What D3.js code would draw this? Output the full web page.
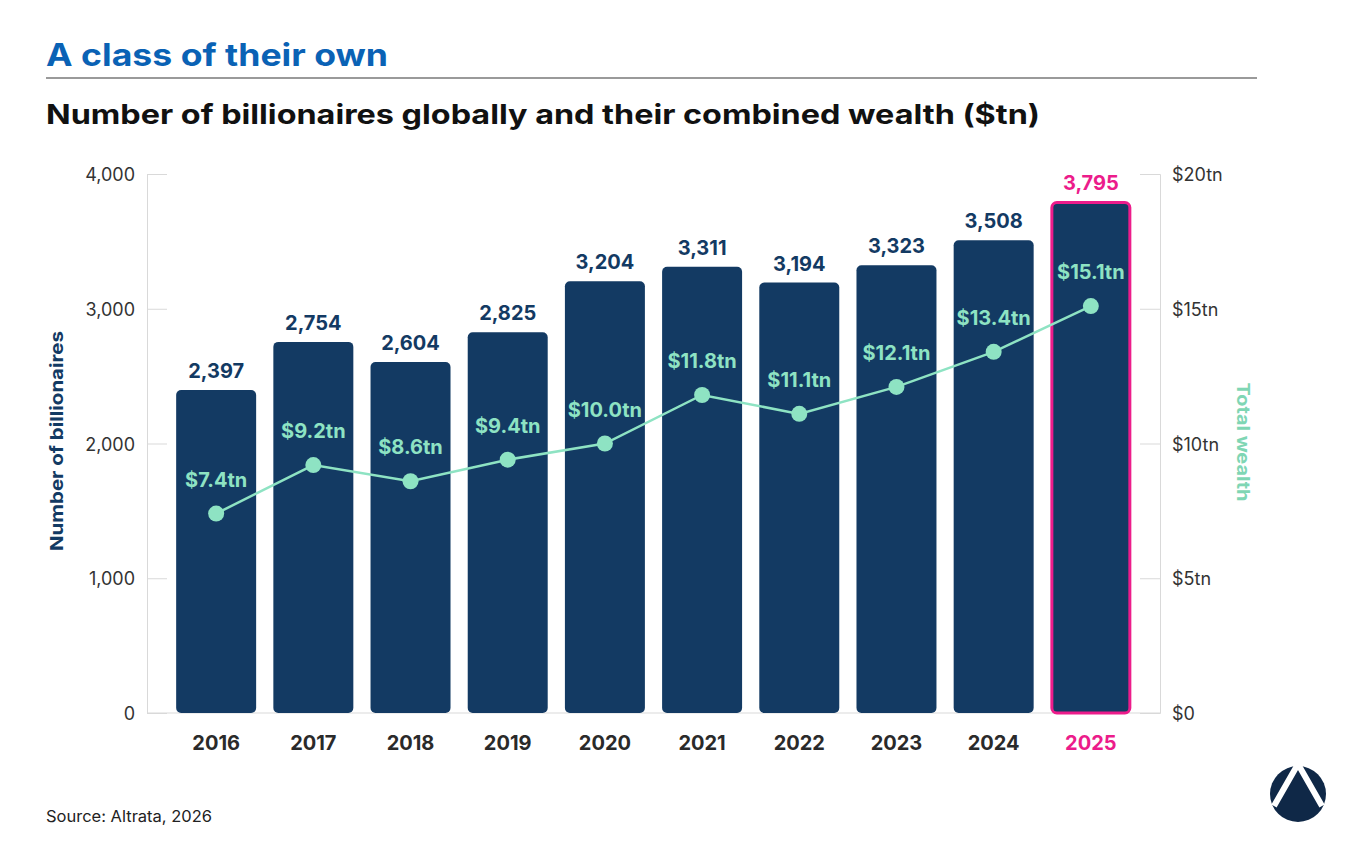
<!DOCTYPE html>
<html>
<head>
<meta charset="utf-8">
<script src="https://cdn.jsdelivr.net/npm/d3@7"></script>
<style>
  body { margin: 0; background: #fff; }
  text { font-family: Inter, "Noto Sans", sans-serif; }
</style>
</head>
<body>
<div id="chart"></div>
<script>
const years = ["2016", "2017", "2018", "2019", "2020", "2021", "2022", "2023", "2024", "2025"];
const billionaires = [2397, 2754, 2604, 2825, 3204, 3311, 3194, 3323, 3508, 3795];
const wealth = [7.4, 9.2, 8.6, 9.4, 10.0, 11.8, 11.1, 12.1, 13.4, 15.1];
const countTicks = [0, 1000, 2000, 3000, 4000];
const wealthTicks = [0, 5, 10, 15, 20];

const W = 1354, H = 864;
const navy = "#133a63", mint = "#8ee3c3", pink = "#ec1c8b", grid = "#d9d9d9";

const svg = d3.select("#chart").append("svg")
    .attr("width", W)
    .attr("height", H);

// titles (the original face is wider than Inter, so stretch to its width)
svg.append("text").attr("x", 46).attr("y", 66)
    .attr("font-size", 31).attr("font-weight", 700).attr("fill", "#0a62b5")
    .attr("textLength", 342).attr("lengthAdjust", "spacingAndGlyphs")
    .text("A class of their own");
svg.append("line").attr("x1", 46).attr("x2", 1257).attr("y1", 78).attr("y2", 78)
    .attr("stroke", "#9a9a9a").attr("stroke-width", 2);
svg.append("text").attr("x", 46).attr("y", 124)
    .attr("font-size", 27).attr("font-weight", 700).attr("fill", "#111")
    .attr("textLength", 994).attr("lengthAdjust", "spacingAndGlyphs")
    .text("Number of billionaires globally and their combined wealth ($tn)");

const x = d3.scaleBand().domain(years).range([147, 1160])
    .paddingInner(0.177).paddingOuter(0.3);
const y = d3.scaleLinear().domain([0, 4000]).range([713, 174]);
const y2 = d3.scaleLinear().domain([0, 20]).range([713, 174]);

// left axis
const left = svg.append("g").attr("transform", "translate(147,0)")
    .call(d3.axisRight(y).tickValues(countTicks).tickSize(20).tickFormat(""));
left.selectAll("line, path").attr("stroke", grid);
svg.append("g").selectAll("text").data(countTicks).join("text")
    .attr("x", 135).attr("y", d => y(d) + 7)
    .attr("text-anchor", "end").attr("font-size", 18).attr("fill", "#333")
    .text(d3.format(","));

// right axis
const right = svg.append("g").attr("transform", "translate(1160,0)")
    .call(d3.axisLeft(y2).tickValues(wealthTicks).tickSize(20).tickFormat(""));
right.selectAll("line, path").attr("stroke", grid);
svg.append("g").selectAll("text").data(wealthTicks).join("text")
    .attr("x", 1172).attr("y", d => y2(d) + 7)
    .attr("font-size", 18).attr("fill", "#333")
    .text(d => d === 0 ? "$0" : "$" + d + "tn");

// baseline
svg.append("line").attr("x1", 147).attr("x2", 1160).attr("y1", y(0)).attr("y2", y(0))
    .attr("stroke", grid);

// axis titles
svg.append("text").attr("transform", "translate(63,441) rotate(-90)")
    .attr("text-anchor", "middle").attr("font-size", 18).attr("font-weight", 700)
    .attr("textLength", 220).attr("lengthAdjust", "spacingAndGlyphs")
    .attr("fill", navy).text("Number of billionaires");
svg.append("text").attr("transform", "translate(1237,442) rotate(90)")
    .attr("text-anchor", "middle").attr("font-size", 18).attr("font-weight", 700)
    .attr("textLength", 119).attr("lengthAdjust", "spacingAndGlyphs")
    .attr("fill", "#7fd6b4").text("Total wealth");

// bars
const last = years[years.length - 1];
svg.append("g").selectAll("rect").data(years).join("rect")
    .attr("x", d => x(d) + (d === last ? 1 : 0))
    .attr("y", (d, i) => y(billionaires[i]) + (d === last ? 1 : 0))
    .attr("width", d => x.bandwidth() - (d === last ? 2 : 0))
    .attr("height", (d, i) => y(0) - y(billionaires[i]) - (d === last ? 1 : 0))
    .attr("rx", 5)
    .attr("fill", navy)
    .attr("stroke", d => d === last ? pink : "none")
    .attr("stroke-width", 3);

// bar labels
svg.append("g").selectAll("text").data(years).join("text")
    .attr("x", d => x(d) + x.bandwidth() / 2)
    .attr("y", (d, i) => y(billionaires[i]) - 12)
    .attr("text-anchor", "middle").attr("font-size", 20).attr("font-weight", 700)
    .attr("fill", d => d === last ? pink : navy)
    .text((d, i) => d3.format(",")(billionaires[i]));

// year labels
svg.append("g").selectAll("text").data(years).join("text")
    .attr("x", d => x(d) + x.bandwidth() / 2)
    .attr("y", 750)
    .attr("text-anchor", "middle").attr("font-size", 20).attr("font-weight", 700)
    .attr("fill", d => d === last ? pink : "#2a2a2a")
    .text(d => d);

// wealth line
const line = d3.line()
    .x((d, i) => x(years[i]) + x.bandwidth() / 2)
    .y(d => y2(d));
svg.append("path").datum(wealth).attr("d", line)
    .attr("fill", "none").attr("stroke", mint).attr("stroke-width", 2.5);
svg.append("g").selectAll("circle").data(wealth).join("circle")
    .attr("cx", (d, i) => x(years[i]) + x.bandwidth() / 2)
    .attr("cy", d => y2(d))
    .attr("r", 8).attr("fill", mint);
svg.append("g").selectAll("text").data(wealth).join("text")
    .attr("x", (d, i) => x(years[i]) + x.bandwidth() / 2)
    .attr("y", d => y2(d) - 27)
    .attr("text-anchor", "middle").attr("font-size", 20).attr("font-weight", 700)
    .attr("fill", mint)
    .text(d => "$" + d.toFixed(1) + "tn");

// source
svg.append("text").attr("x", 46).attr("y", 822)
    .attr("font-size", 16).attr("fill", "#222")
    .attr("textLength", 166).attr("lengthAdjust", "spacingAndGlyphs")
    .text("Source: Altrata, 2026");

// logo
const logo = svg.append("g").attr("transform", "translate(1298,794)");
logo.append("circle").attr("r", 28).attr("fill", "#0f2847");
logo.append("path")
    .attr("d", "M-24,12 L0,-30 L24,12")
    .attr("fill", "none").attr("stroke", "#fff").attr("stroke-width", 6);
</script>
</body>
</html>
